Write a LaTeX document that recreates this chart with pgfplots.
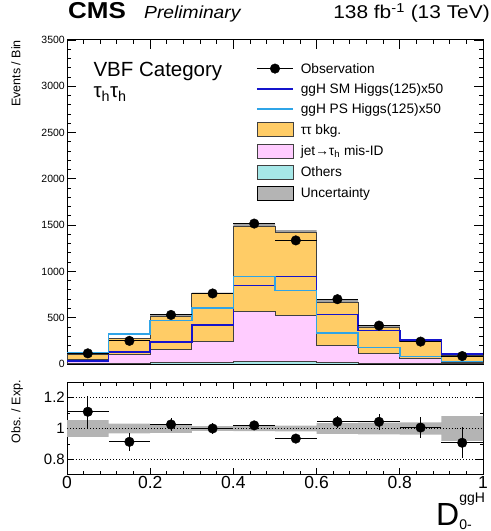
\documentclass[border=0pt]{standalone}
\usepackage{fontspec}
\setmainfont{Liberation Sans}
\usepackage{pgfplots}
\usepackage{pgfplotstable}
\pgfplotsset{compat=1.18}
\usepgfplotslibrary{fillbetween}

\definecolor{ttorange}{HTML}{FFCC66}
\definecolor{fakepink}{HTML}{FFCCFF}
\definecolor{othcyan}{HTML}{A6E8E8}
\definecolor{smblue}{HTML}{1414CC}
\definecolor{psblue}{HTML}{2FA4E7}
\definecolor{uncgray}{HTML}{B4B4B4}

% bin lower edges; last row repeats last bin at x=1 for const plot
\pgfplotstableread{
x    tot   pink  oth  sm   ps   hi     lo
0.0  104   50    8    35   125  109.6  98.4
0.1  272   105   10   132  323  280.7  263.3
0.2  518   160   15   237  469  532.5  503.5
0.3  760   247   20   420  608  771.4  748.6
0.4  1485  572   32   850  944  1510.2 1459.8
0.5  1420  525   25   944  796  1445.6 1394.4
0.6  668   204   15   536  338  691.4  644.6
0.7  398   118   8    360  180  413.1  382.9
0.8  240   65    5    258  82   249.6  230.4
0.9  94    18    3    108  28   101.5  86.5
1.0  94    18    3    108  28   101.5  86.5
}\stack

\pgfplotstableread{
x     y     ex    ey
0.05  115   0.05  10.7
0.15  250   0.05  15.8
0.25  530   0.05  23.0
0.35  762   0.05  27.6
0.45  1517  0.05  38.9
0.55  1335  0.05  36.5
0.65  700   0.05  26.5
0.75  415   0.05  20.4
0.85  242   0.05  15.6
0.95  86    0.05  9.3
}\obs

\pgfplotstableread{
x     r      ex    er
0.05  1.108  0.05  0.103
0.15  0.914  0.05  0.058
0.25  1.026  0.05  0.044
0.35  1.000  0.05  0.036
0.45  1.020  0.05  0.026
0.55  0.935  0.05  0.026
0.65  1.043  0.05  0.040
0.75  1.043  0.05  0.051
0.85  1.006  0.05  0.065
0.95  0.908  0.05  0.099
}\ratio

\pgfplotstableread{
x    lo     hi
0.0  0.946  1.054
0.1  0.968  1.032
0.2  0.972  1.028
0.3  0.985  1.015
0.4  0.983  1.017
0.5  0.982  1.018
0.6  0.965  1.035
0.7  0.962  1.038
0.8  0.960  1.040
0.9  0.920  1.080
1.0  0.920  1.080
}\rband

\pgfplotsset{
  cmsaxis/.style={
    scale only axis, width=416bp, xmin=0, xmax=1,
    axis line style={line width=1bp},
    tick style={black, line width=0.9bp},
    tick align=inside,
    xtick={0,0.2,0.4,0.6,0.8,1}, minor x tick num=4,
    /pgf/number format/assume math mode=true,
    /pgf/number format/1000 sep={},
  },
  legrect/.style={legend image code/.code={%
    \path[draw=none, fill=none] (0bp,-7bp) rectangle (36bp,7bp);
    \draw[##1] (0bp,-7bp) rectangle (36bp,7bp);}},
  legline/.style={legend image code/.code={%
    \path[draw=none, fill=none] (0bp,-7bp) rectangle (36bp,7bp);
    \draw[##1] (0bp,0bp) -- (36bp,0bp);}},
}

\begin{document}
\begin{tikzpicture}

% ---------- main panel ----------
\begin{axis}[cmsaxis,
  at={(0bp,0bp)}, anchor=south west, height=324bp,
  ymin=0, ymax=3500, ytick={0,500,1000,1500,2000,2500,3000,3500},
  minor y tick num=4,
  major tick length=9bp, minor tick length=4.5bp,
  xticklabels={},
  yticklabel style={font=\fontsize{10.5bp}{12bp}\selectfont, inner xsep=2bp},
  legend cell align=left,
  legend style={at={(rel axis cs:0.4543,0.934)}, anchor=north west,
    draw=none, fill=none, inner sep=0pt, row sep=6.3bp, column sep=7bp,
    font=\fontsize{13.7bp}{15bp}\selectfont,
    nodes={inner sep=0pt, text height=10bp, text depth=1bp}},
]
\addlegendimage{legend image code/.code={%
  \path[draw=none, fill=none] (0bp,-7bp) rectangle (36bp,7bp);
  \draw[black, line width=0.9bp] (0bp,0bp) -- (36bp,0bp);
  \fill[black] (18bp,0bp) circle (4.8bp);}}
\addlegendentry{Observation}
\addlegendimage{legline, smblue, line width=1.6bp}
\addlegendentry{ggH SM Higgs(125)x50}
\addlegendimage{legline, psblue, line width=1.6bp}
\addlegendentry{ggH PS Higgs(125)x50}
\addlegendimage{legrect, fill=ttorange, draw=black!75, line width=0.8bp}
\addlegendentry{ττ bkg.}
\addlegendimage{legrect, fill=fakepink, draw=black!75, line width=0.8bp}
\addlegendentry{jet→τ\textsubscript{h} mis-ID}
\addlegendimage{legrect, fill=othcyan, draw=black!75, line width=0.8bp}
\addlegendentry{Others}
\addlegendimage{legrect, fill=uncgray, draw=none}
\addlegendentry{Uncertainty}

\addplot[forget plot, const plot, fill=ttorange, draw=black!75, line width=0.8bp]
  table[x=x, y=tot] {\stack} \closedcycle;
\addplot[forget plot, const plot, fill=fakepink, draw=black!75, line width=0.8bp]
  table[x=x, y=pink] {\stack} \closedcycle;
\addplot[forget plot, const plot, fill=othcyan, draw=black!75, line width=0.8bp]
  table[x=x, y=oth] {\stack} \closedcycle;

\addplot[forget plot, const plot, draw=none, name path=uhi] table[x=x, y=hi] {\stack};
\addplot[forget plot, const plot, draw=none, name path=ulo] table[x=x, y=lo] {\stack};
\addplot[forget plot, fill=black!45, opacity=0.8] fill between[of=uhi and ulo];

\addplot[forget plot, const plot, smblue, line width=1.6bp] table[x=x, y=sm] {\stack};
\addplot[forget plot, const plot, psblue, line width=1.6bp] table[x=x, y=ps] {\stack};

\addplot[forget plot, only marks, mark=*, mark size=4.8bp, black,
  error bars/.cd, x dir=both, x explicit, y dir=both, y explicit,
  error mark=none, error bar style={line width=0.9bp, black}]
  table[x=x, y=y, x error=ex, y error=ey] {\obs};
\end{axis}

% ---------- ratio panel ----------
\begin{axis}[cmsaxis,
  at={(0bp,-18bp)}, anchor=north west, height=93bp,
  ymin=0.7, ymax=1.3, ytick={0.8,1,1.2}, minor y tick num=1,
  major tick length=7bp, minor tick length=3.5bp,
  xticklabel style={font=\fontsize{17.5bp}{18bp}\selectfont, inner ysep=1.5bp},
  yticklabel style={font=\fontsize{15bp}{16bp}\selectfont, inner xsep=2bp},
]
\addplot[forget plot, const plot, draw=none, name path=rhi] table[x=x, y=hi] {\rband};
\addplot[forget plot, const plot, draw=none, name path=rlo] table[x=x, y=lo] {\rband};
\addplot[forget plot, fill=uncgray, draw=none] fill between[of=rhi and rlo];

\addplot[forget plot, black, dotted, line width=0.9bp] coordinates {(0,1.2) (1,1.2)};
\addplot[forget plot, black, dotted, line width=0.9bp] coordinates {(0,1) (1,1)};
\addplot[forget plot, black, dotted, line width=0.9bp] coordinates {(0,0.8) (1,0.8)};

\addplot[forget plot, only marks, mark=*, mark size=4.8bp, black,
  error bars/.cd, x dir=both, x explicit, y dir=both, y explicit,
  error mark=none, error bar style={line width=0.9bp, black}]
  table[x=x, y=r, x error=ex, y error=er] {\ratio};
\end{axis}

% ---------- texts ----------
\node[anchor=base west, inner sep=0, xscale=1.13, transform shape,
  font=\fontsize{23bp}{23bp}\bfseries\selectfont]
  at (1bp,345.7bp) {CMS};
\node[anchor=base west, inner sep=0, xscale=1.1, transform shape,
  font=\fontsize{17.5bp}{18bp}\itshape\selectfont]
  at (77bp,345.7bp) {Preliminary};
\node[anchor=base east, inner sep=0, xscale=1.13, transform shape,
  font=\fontsize{18.5bp}{19bp}\selectfont]
  at (423bp,345.7bp) {138 fb\textsuperscript{-1} (13 TeV)};

\node[anchor=base west, inner sep=0, font=\fontsize{20.5bp}{21bp}\selectfont]
  at (26.3bp,287.3bp) {VBF Category};
\node[anchor=base west, inner sep=0, font=\fontsize{20.5bp}{21bp}\selectfont]
  at (26.3bp,266bp) {τ\textsubscript{h}τ\textsubscript{h}};

\node[rotate=90, anchor=north east, inner sep=0, font=\fontsize{12.5bp}{13bp}\selectfont]
  at (-56bp,324bp) {Events / Bin};
\node[rotate=90, anchor=north east, inner sep=0, font=\fontsize{12.5bp}{13bp}\selectfont]
  at (-56bp,-16bp) {Obs. / Exp.};

\node[anchor=base west, inner sep=0] at (369bp,-161bp)
  {\fontsize{32bp}{32bp}\selectfont D\makebox[0pt][l]{\raisebox{22.5bp}{\fontsize{14bp}{14bp}\selectfont ggH}}\raisebox{-4.5bp}{\fontsize{14bp}{14bp}\selectfont 0-}};

\pgfresetboundingbox
\useasboundingbox (-67bp,-167bp) rectangle (424bp,364bp);
\end{tikzpicture}
\end{document}
